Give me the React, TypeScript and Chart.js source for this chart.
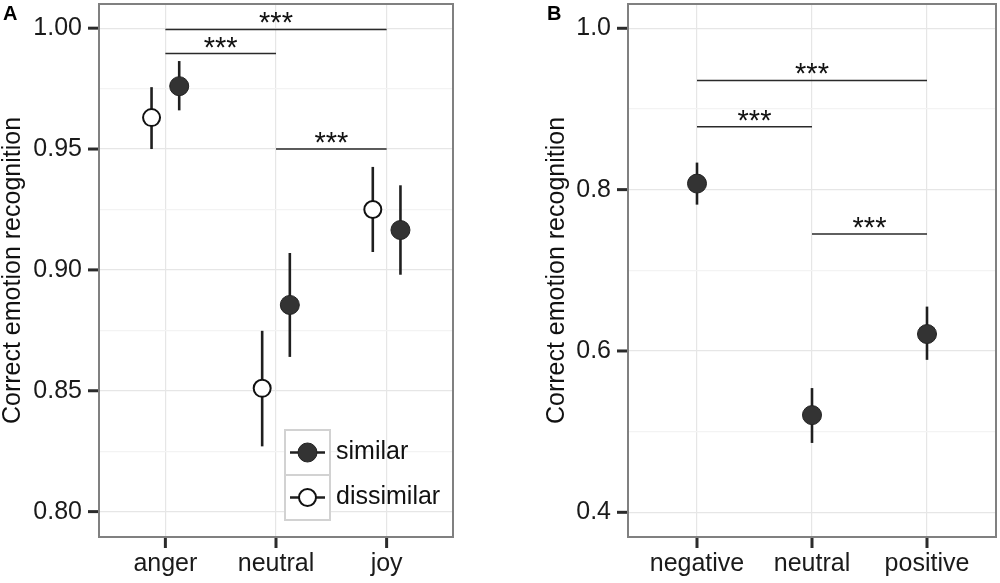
import React, { useEffect, useRef } from 'react';
import { Chart, registerables } from 'chart.js';

Chart.register(...registerables);

const FONT = '"Liberation Sans", Arial, Helvetica, sans-serif';

// Panel A: emotion categories, similar vs dissimilar
const emotionCategories = ['anger', 'neutral', 'joy'];
const similarMean = [0.976, 0.8855, 0.9165];
const similarLow = [0.966, 0.864, 0.898];
const similarHigh = [0.9864, 0.907, 0.935];
const dissimilarMean = [0.963, 0.851, 0.925];
const dissimilarLow = [0.95, 0.827, 0.9074];
const dissimilarHigh = [0.9756, 0.8748, 0.9426];
const emotionTicks = [0.8, 0.85, 0.9, 0.95, 1.0];
const emotionMinorTicks = [0.825, 0.875, 0.925, 0.975];
const emotionSigFrom = [0, 0, 1];
const emotionSigTo = [2, 1, 2];
const emotionSigY = [0.9995, 0.9895, 0.95];
const emotionSigLabel = ['***', '***', '***'];

// Panel B: valence categories
const valenceCategories = ['negative', 'neutral', 'positive'];
const valenceMean = [0.8075, 0.5205, 0.621];
const valenceLow = [0.7814, 0.486, 0.589];
const valenceHigh = [0.8335, 0.554, 0.655];
const valenceTicks = [0.4, 0.6, 0.8, 1.0];
const valenceMinorTicks = [0.5, 0.7, 0.9];
const valenceSigFrom = [0, 0, 1];
const valenceSigTo = [2, 1, 2];
const valenceSigY = [0.9354, 0.878, 0.745];
const valenceSigLabel = ['***', '***', '***'];

interface Series {
  label: string;
  offset: number;
  mean: number[];
  low: number[];
  high: number[];
  fill: string;
  stroke: string;
  radius: number;
  border: number;
}

interface PanelProps {
  letter: string;
  categories: string[];
  series: Series[];
  yMin: number;
  yMax: number;
  majorTicks: number[];
  minorTicks: number[];
  decimals: number;
  sigFrom: number[];
  sigTo: number[];
  sigY: number[];
  sigLabel: string[];
  yAxisWidth: number;
  rightPad: number;
  legend?: { x: number; y: number; size: number };
  left: number;
  width: number;
}

function ErrorPanel(props: PanelProps) {
  const chartRef = useRef<HTMLCanvasElement | null>(null);
  const chartInstance = useRef<Chart | null>(null);

  useEffect(() => {
    if (!chartRef.current) return;
    if (chartInstance.current) chartInstance.current.destroy();

    const isMajor = (v: number) => props.majorTicks.some(m => Math.abs(m - v) < 1e-9);

    const decor = {
      id: 'panelDecor',
      beforeDatasetsDraw(chart: any) {
        const { ctx } = chart;
        const xs = chart.scales.x;
        const ys = chart.scales.y;
        ctx.save();
        ctx.strokeStyle = '#1f1f1f';
        ctx.lineWidth = 2.6;
        props.series.forEach(s => {
          s.mean.forEach((_, i) => {
            const px = xs.getPixelForValue(i + s.offset);
            ctx.beginPath();
            ctx.moveTo(px, ys.getPixelForValue(s.low[i]));
            ctx.lineTo(px, ys.getPixelForValue(s.high[i]));
            ctx.stroke();
          });
        });
        ctx.restore();
      },
      afterDatasetsDraw(chart: any) {
        const { ctx } = chart;
        const xs = chart.scales.x;
        const ys = chart.scales.y;
        ctx.save();
        // significance brackets
        props.sigY.forEach((v, j) => {
          const py = ys.getPixelForValue(v);
          const x1 = xs.getPixelForValue(props.sigFrom[j]);
          const x2 = xs.getPixelForValue(props.sigTo[j]);
          ctx.strokeStyle = '#2a2a2a';
          ctx.lineWidth = 1.5;
          ctx.beginPath();
          ctx.moveTo(x1, py);
          ctx.lineTo(x2, py);
          ctx.stroke();
          ctx.font = `29px ${FONT}`;
          ctx.fillStyle = '#111';
          ctx.textAlign = 'center';
          ctx.textBaseline = 'alphabetic';
          const m = ctx.measureText(props.sigLabel[j]);
          const center = py - 11.5;
          const base = center + (m.actualBoundingBoxAscent - m.actualBoundingBoxDescent) / 2;
          ctx.fillText(props.sigLabel[j], (x1 + x2) / 2, base);
        });
        // legend
        if (props.legend) {
          const L = props.legend;
          props.series.forEach((s, k) => {
            const top = L.y + k * L.size;
            const cy = top + L.size / 2;
            const cx = L.x + L.size / 2;
            ctx.fillStyle = '#fff';
            ctx.fillRect(L.x, top, L.size, L.size);
            ctx.strokeStyle = '#d2d2d2';
            ctx.lineWidth = 2;
            ctx.strokeRect(L.x, top, L.size, L.size);
            ctx.strokeStyle = '#1f1f1f';
            ctx.lineWidth = 2.6;
            ctx.beginPath();
            ctx.moveTo(L.x + 5, cy);
            ctx.lineTo(L.x + L.size - 5, cy);
            ctx.stroke();
            ctx.beginPath();
            ctx.arc(cx, cy, s.radius, 0, Math.PI * 2);
            ctx.fillStyle = s.fill;
            ctx.fill();
            ctx.strokeStyle = s.stroke;
            ctx.lineWidth = s.border;
            ctx.stroke();
            ctx.font = `25px ${FONT}`;
            ctx.fillStyle = '#111';
            ctx.textAlign = 'left';
            ctx.textBaseline = 'middle';
            ctx.fillText(s.label, L.x + L.size + 6, cy);
          });
        }
        // axis tick marks (major only), drawn outside the panel
        const a = chart.chartArea;
        ctx.strokeStyle = '#2b2b2b';
        ctx.lineWidth = 3;
        ctx.lineCap = 'butt';
        ys.ticks.forEach((t: any) => {
          if (!isMajor(t.value)) return;
          const py = ys.getPixelForValue(t.value);
          ctx.beginPath();
          ctx.moveTo(a.left - 11, py);
          ctx.lineTo(a.left - 1, py);
          ctx.stroke();
        });
        xs.ticks.forEach((t: any) => {
          const px = xs.getPixelForValue(t.value);
          ctx.beginPath();
          ctx.moveTo(px, a.bottom + 1);
          ctx.lineTo(px, a.bottom + 11);
          ctx.stroke();
        });
        ctx.restore();
      },
      afterDraw(chart: any) {
        const { ctx, chartArea: a } = chart;
        ctx.save();
        // panel frame
        ctx.strokeStyle = '#808080';
        ctx.lineWidth = 2;
        ctx.strokeRect(a.left, a.top, a.right - a.left, a.bottom - a.top);
        // panel letter
        ctx.font = `bold 20px ${FONT}`;
        ctx.fillStyle = '#000';
        ctx.textAlign = 'left';
        ctx.textBaseline = 'alphabetic';
        ctx.fillText(props.letter, 3, 20);
        ctx.restore();
      },
    };

    const ctx = chartRef.current.getContext('2d');
    if (!ctx) return;
    chartInstance.current = new Chart(ctx, {
      type: 'scatter',
      data: {
        datasets: props.series.map(s => ({
          label: s.label,
          data: s.mean.map((v, i) => ({ x: i + s.offset, y: v })),
          pointRadius: s.radius,
          pointHoverRadius: s.radius,
          backgroundColor: s.fill,
          borderColor: s.stroke,
          borderWidth: s.border,
          clip: false,
        })),
      },
      options: {
        animation: false,
        responsive: true,
        maintainAspectRatio: false,
        layout: { autoPadding: false, padding: { top: 4, right: props.rightPad, left: 0, bottom: 0 } },
        plugins: { legend: { display: false }, tooltip: { enabled: false } },
        scales: {
          x: {
            type: 'linear',
            min: -0.6,
            max: 2.6,
            afterBuildTicks: (scale: any) => {
              scale.ticks = props.categories.map((_, i) => ({ value: i }));
            },
            afterFit: (scale: any) => {
              scale.height = 46;
              scale.paddingLeft = 0;
              scale.paddingRight = 0;
            },
            ticks: {
              autoSkip: false,
              maxRotation: 0,
              padding: 12,
              color: '#1a1a1a',
              font: { family: FONT, size: 25 },
              callback: (value: any) => props.categories[Math.round(Number(value))] ?? '',
            },
            grid: {
              color: '#e6e6e6',
              lineWidth: 1.2,
              drawTicks: false,
            },
            border: { display: false },
          },
          y: {
            type: 'linear',
            min: props.yMin,
            max: props.yMax,
            afterBuildTicks: (scale: any) => {
              scale.ticks = [...props.majorTicks, ...props.minorTicks]
                .sort((a, b) => a - b)
                .map(v => ({ value: v }));
            },
            afterFit: (scale: any) => {
              scale.width = props.yAxisWidth;
              scale.paddingTop = 0;
              scale.paddingBottom = 0;
            },
            ticks: {
              autoSkip: false,
              padding: 17,
              color: '#1a1a1a',
              font: { family: FONT, size: 25 },
              callback: (value: any) => (isMajor(Number(value)) ? Number(value).toFixed(props.decimals) : ''),
            },
            grid: {
              color: (c: any) => (c.tick && isMajor(c.tick.value) ? '#e6e6e6' : '#f3f3f3'),
              lineWidth: 1.2,
              drawTicks: false,
            },
            border: { display: false },
            title: {
              display: true,
              text: 'Correct emotion recognition',
              color: '#111',
              font: { family: FONT, size: 25, lineHeight: 1 },
              padding: { top: 1, bottom: 0 },
            },
          },
        },
      },
      plugins: [decor],
    } as any);

    return () => {
      if (chartInstance.current) {
        chartInstance.current.destroy();
        chartInstance.current = null;
      }
    };
  }, [props]);

  return (
    <div style={{ position: 'absolute', left: props.left, top: 0, width: props.width, height: 583 }}>
      <canvas ref={chartRef} />
    </div>
  );
}

const panelA: PanelProps = {
  letter: 'A',
  categories: emotionCategories,
  series: [
    { label: 'similar', offset: 0.125, mean: similarMean, low: similarLow, high: similarHigh, fill: '#333333', stroke: '#222222', radius: 9.5, border: 1 },
    { label: 'dissimilar', offset: -0.125, mean: dissimilarMean, low: dissimilarLow, high: dissimilarHigh, fill: '#ffffff', stroke: '#111111', radius: 8.5, border: 2 },
  ],
  yMin: 0.7895,
  yMax: 1.01,
  majorTicks: emotionTicks,
  minorTicks: emotionMinorTicks,
  decimals: 2,
  sigFrom: emotionSigFrom,
  sigTo: emotionSigTo,
  sigY: emotionSigY,
  sigLabel: emotionSigLabel,
  yAxisWidth: 99,
  rightPad: 47,
  legend: { x: 285, y: 430, size: 45 },
  left: 0,
  width: 500,
};

const panelB: PanelProps = {
  letter: 'B',
  categories: valenceCategories,
  series: [
    { label: 'all', offset: 0, mean: valenceMean, low: valenceLow, high: valenceHigh, fill: '#333333', stroke: '#222222', radius: 9.5, border: 1 },
  ],
  yMin: 0.3694,
  yMax: 1.0301,
  majorTicks: valenceTicks,
  minorTicks: valenceMinorTicks,
  decimals: 1,
  sigFrom: valenceSigFrom,
  sigTo: valenceSigTo,
  sigY: valenceSigY,
  sigLabel: valenceSigLabel,
  yAxisWidth: 84,
  rightPad: 4,
  left: 544,
  width: 456,
};

export default function App() {
  return (
    <div style={{ position: 'absolute', left: 0, top: 0, width: 1000, height: 583, background: '#fff' }}>
      <ErrorPanel {...panelA} />
      <ErrorPanel {...panelB} />
    </div>
  );
}
